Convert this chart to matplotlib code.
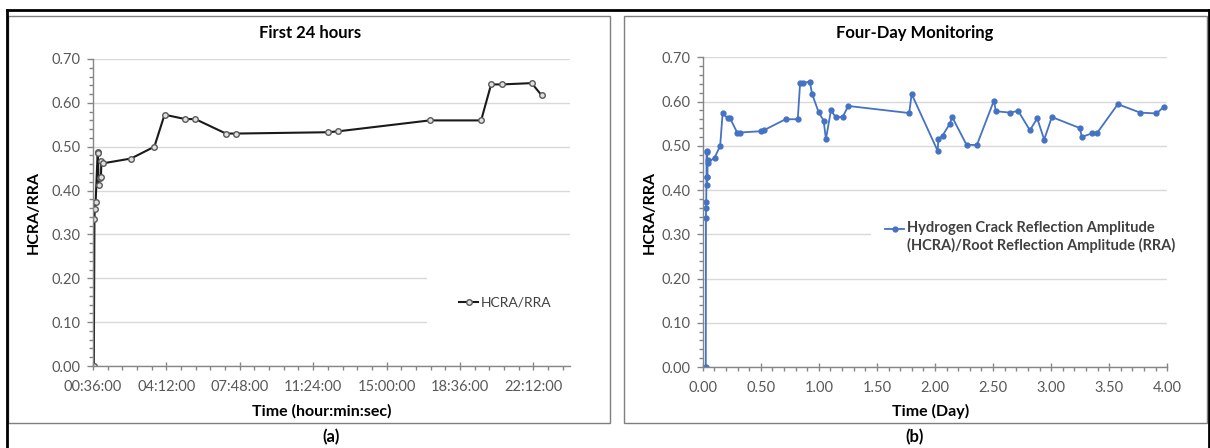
import numpy as np
import matplotlib
matplotlib.use("Agg")
import matplotlib.pyplot as plt
from matplotlib.patches import Rectangle
from matplotlib.lines import Line2D
from matplotlib.ticker import FixedLocator, MultipleLocator, FuncFormatter, FormatStrFormatter

# first 24 hours (time in hours)
day1_hours = [0.64, 0.67, 0.69, 0.73, 0.83, 0.84, 0.88, 0.92, 0.99, 1.01, 1.07,
              2.46, 3.61, 4.11, 5.13, 5.62, 7.12, 7.63, 12.12, 12.61, 17.12,
              19.64, 20.13, 20.64, 22.12, 22.61]
day1_vals = [0.000, 0.336, 0.359, 0.374, 0.489, 0.486, 0.412, 0.429, 0.430, 0.468, 0.462,
             0.473, 0.500, 0.573, 0.563, 0.563, 0.530, 0.530, 0.533, 0.535, 0.560,
             0.560, 0.642, 0.642, 0.645, 0.617]

# rest of the four-day monitoring (time in days)
later_days = [0.998, 1.041, 1.061, 1.104, 1.145, 1.205, 1.253, 1.778, 1.799, 2.022,
              2.030, 2.065, 2.128, 2.148, 2.272, 2.361, 2.507, 2.524, 2.648, 2.716,
              2.817, 2.880, 2.940, 3.006, 3.247, 3.264, 3.350, 3.393, 3.574, 3.766,
              3.907, 3.970]
later_vals = [0.576, 0.557, 0.515, 0.580, 0.565, 0.565, 0.590, 0.574, 0.617, 0.489,
              0.515, 0.523, 0.550, 0.565, 0.502, 0.502, 0.602, 0.578, 0.575, 0.579,
              0.535, 0.562, 0.514, 0.565, 0.540, 0.520, 0.528, 0.528, 0.594, 0.575,
              0.573, 0.588]

plt.rcParams['font.family'] = ['Lato', 'DejaVu Sans']

W, H = 1210, 448
fig = plt.figure(figsize=(W / 100, H / 100), dpi=100)


def fx(px):
    return px / W


def fy(py):
    return 1 - py / H


def excel_axes(ax, ypad):
    for s in ['top', 'right']:
        ax.spines[s].set_visible(False)
    for s in ['left', 'bottom']:
        ax.spines[s].set_color('#868686')
        ax.spines[s].set_linewidth(1.0)
    ax.set_ylim(0, 0.7)
    ax.yaxis.set_major_locator(MultipleLocator(0.1))
    ax.yaxis.set_minor_locator(MultipleLocator(0.02))
    ax.yaxis.set_major_formatter(FormatStrFormatter('%.2f'))
    ax.grid(axis='y', color='#d9d9d9', lw=1.0)
    ax.set_axisbelow(True)
    ax.tick_params(which='major', direction='inout', length=6, width=1, color='#868686',
                   labelsize=10.5, labelcolor='#595959')
    ax.tick_params(which='minor', direction='out', length=3, width=1, color='#868686')
    ax.tick_params(axis='y', which='major', direction='out', length=4, pad=5)
    ax.tick_params(axis='x', which='major', pad=7)
    ax.set_ylabel('HCRA/RRA', fontsize=11.5, fontweight='bold', labelpad=ypad)


# panel frames
fig.add_artist(Rectangle((fx(8), fy(423)), fx(610) - fx(8), fy(16) - fy(423),
                         transform=fig.transFigure, fill=False, ec='#7f7f7f', lw=1))
fig.add_artist(Rectangle((fx(624), fy(423)), fx(1207) - fx(624), fy(16) - fy(423),
                         transform=fig.transFigure, fill=False, ec='#7f7f7f', lw=1))
fig.add_artist(Line2D([fx(7), fx(1209)], [fy(10), fy(10)], transform=fig.transFigure,
                      color='black', lw=2))
fig.add_artist(Line2D([fx(7), fx(7)], [fy(10), fy(448)], transform=fig.transFigure,
                      color='black', lw=2))
fig.add_artist(Line2D([fx(1209), fx(1209)], [fy(10), fy(448)], transform=fig.transFigure,
                      color='black', lw=2))

# (a) first 24 hours
ax1 = fig.add_axes([fx(93), fy(366), fx(570) - fx(93), fy(59) - fy(366)])
excel_axes(ax1, 8)
ax1.plot(day1_hours, day1_vals, color='#1a1a1a', lw=1.5, marker='o', ms=4,
         mfc='#e0e0e0', mec='#595959', mew=1.0, label='HCRA/RRA')
ax1.set_xlim(0.6, 24)
ax1.xaxis.set_major_locator(FixedLocator(np.arange(0.6, 24, 3.6)))
ax1.xaxis.set_minor_locator(FixedLocator(np.arange(0.6, 24.01, 0.72)))


def hms(h, pos):
    s = int(round(h * 3600))
    return '%02d:%02d:%02d' % (s // 3600, (s % 3600) // 60, s % 60)


ax1.xaxis.set_major_formatter(FuncFormatter(hms))
ax1.set_xlabel('Time (hour:min:sec)', fontsize=11.5, fontweight='bold')
ax1.xaxis.set_label_coords(0.48, -0.124)
leg1 = ax1.legend(loc='center left', bbox_to_anchor=(0.70, 0.206), frameon=True,
                  facecolor='white', edgecolor='none', framealpha=1, fontsize=10,
                  handlelength=1.4, handletextpad=0.2, borderpad=2.3, borderaxespad=0)
for t in leg1.get_texts():
    t.set_color('#404040')
fig.text(fx(310), fy(33), 'First 24 hours', ha='center', va='center',
         fontsize=12, fontweight='bold')
fig.text(fx(331), fy(437), '(a)', ha='center', va='center', fontsize=12, fontweight='bold')

# (b) four-day monitoring
right_days = np.concatenate([np.array(day1_hours) / 24.0, later_days])
right_vals = np.concatenate([day1_vals, later_vals])
ax2 = fig.add_axes([fx(702.7), fy(367), fx(1167.3) - fx(702.7), fy(57.3) - fy(367)])
excel_axes(ax2, 3)
ax2.plot(right_days, right_vals, color='#4472c4', lw=1.3, marker='o', ms=3.5,
         mfc='#4472c4', mec='#4472c4',
         label='Hydrogen Crack Reflection Amplitude\n(HCRA)/Root Reflection Amplitude (RRA)')
ax2.set_xlim(0, 4)
ax2.xaxis.set_major_locator(MultipleLocator(0.5))
ax2.xaxis.set_minor_locator(MultipleLocator(0.1))
ax2.xaxis.set_major_formatter(FormatStrFormatter('%.2f'))
ax2.set_xlabel('Time (Day)', fontsize=11.5, fontweight='bold')
ax2.xaxis.set_label_coords(0.49, -0.119)
leg2 = ax2.legend(loc='center left', bbox_to_anchor=(0.362, 0.42), frameon=True,
                  facecolor='white', edgecolor='none', framealpha=1,
                  prop={'size': 10.5, 'weight': 'bold'},
                  handlelength=1.3, handletextpad=0.2, borderpad=1.0, borderaxespad=0)
for t in leg2.get_texts():
    t.set_color('#404040')
# put the legend key level with the first line of the label
hl = leg2.legend_handles[0]
hl.set_ydata(np.asarray(hl.get_ydata(), dtype=float) + 6.3)
fig.text(fx(915), fy(33), 'Four-Day Monitoring', ha='center', va='center',
         fontsize=12, fontweight='bold')
fig.text(fx(915), fy(437), '(b)', ha='center', va='center', fontsize=12, fontweight='bold')

fig.savefig('out.png', dpi=100)
